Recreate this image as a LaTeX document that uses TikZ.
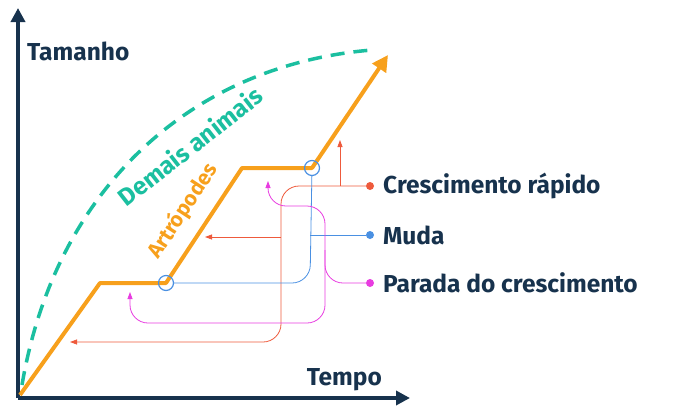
\documentclass[tikz,border=0pt]{standalone}
\usepackage{fontspec}
\setmainfont{Fira Sans}
\usetikzlibrary{arrows.meta}
\definecolor{navy}{HTML}{17324D}
\definecolor{orng}{HTML}{F7A01C}
\definecolor{teal}{HTML}{1BBFA0}
\definecolor{redl}{HTML}{EE5A3C}
\definecolor{bluel}{HTML}{4A90E2}
\definecolor{magl}{HTML}{E83CE0}
\begin{document}
\begin{tikzpicture}[
        x=1pt, y=1pt,
        txt/.style={font=\fontsize{24.5}{28}\selectfont\bfseries, text=navy, anchor=west, inner sep=0pt},
        thin/.style={line width=0.8pt, rounded corners=18pt},
        tip/.style={-{Triangle[length=7pt,width=5pt]}},
        dot/.style={circle, fill, inner sep=0pt, minimum size=8pt},
        ring/.style={circle, draw=bluel, line width=1.2pt, inner sep=0pt, minimum size=15pt}
    ]
        \useasboundingbox (0,-418) rectangle (674,0);
        % Axes
        \coordinate (O) at (18,-398);
        \coordinate (ytop) at (18,-8);
        \coordinate (xend) at (410,-398);
        \draw[navy, line width=4pt, -{Triangle[length=14pt,width=14pt]}] (O) -- (ytop);
        \draw[navy, line width=4pt, -{Triangle[length=14pt,width=14pt]}] (O) -- (xend);
        \node[txt, anchor=base west] (tam) at (27,-60) {Tamanho};
        \node[txt, anchor=base east] (tem) at (382,-385) {Tempo};

        % Curves
        \coordinate (t0) at (22,-385);
        \coordinate (t1) at (372,-50);
        \draw[teal, line width=3.5pt, dash pattern=on 14pt off 9pt] (t0) .. controls (55,-190) and (190,-65) .. (t1);
        \node[font=\fontsize{24.5}{28}\selectfont\bfseries, text=teal, rotate=38] (dem) at (190,-146) {Demais animais};

        \coordinate (a0) at (20,-395);
        \coordinate (a1) at (100,-283);
        \coordinate (a2) at (166,-283);
        \coordinate (a3) at (242,-168);
        \coordinate (a4) at (312,-168);
        \coordinate (a5) at (388,-55);
        \draw[orng, line width=4pt, line join=round, -{Triangle[length=16pt,width=16pt]}]
            (a0) -- (a1) -- (a2) -- (a3) -- (a4) -- (a5);
        \node[font=\fontsize{21}{24}\selectfont\bfseries, text=orng, rotate=57] (art) at (183,-211) {Artrópodes};

        \node[ring] (m1) at (166,-283) {};
        \node[ring] (m2) at (312,-168) {};

        % Legend
        \node[dot, redl] (dr) at (370,-186) {};
        \node[dot, bluel] (db) at (370,-235) {};
        \node[dot, magl] (dm) at (370,-283) {};
        \node[txt] (lr) at (383,-186) {Crescimento rápido};
        \node[txt] (lb) at (383,-235) {Muda};
        \node[txt] (lm) at (383,-283) {Parada do crescimento};

        % Connectors
        \coordinate (r1) at (340,-140);
        \coordinate (r2) at (205,-237);
        \coordinate (r3) at (70,-342);
        \draw[redl, thin, tip] (340,-186) -- (r1);
        \draw[redl, thin, tip] (dr) -- (281,-186) -- (281,-342) -- (r3);
        \draw[redl, thin, tip] (281,-237) -- (r2);

        \draw[bluel, thin] (db) -- (310,-235);
        \draw[bluel, thin] (m2) -- (310,-283) -- (m1);

        \coordinate (p1) at (268,-181);
        \coordinate (p2) at (130,-292);
        \draw[magl, thin, tip] (dm) -- (325,-283) -- (325,-206) -- (268,-206) -- (p1);
        \draw[magl, thin, tip] (325,-250) -- (325,-323) -- (130,-323) -- (p2);
\end{tikzpicture}
\end{document}
